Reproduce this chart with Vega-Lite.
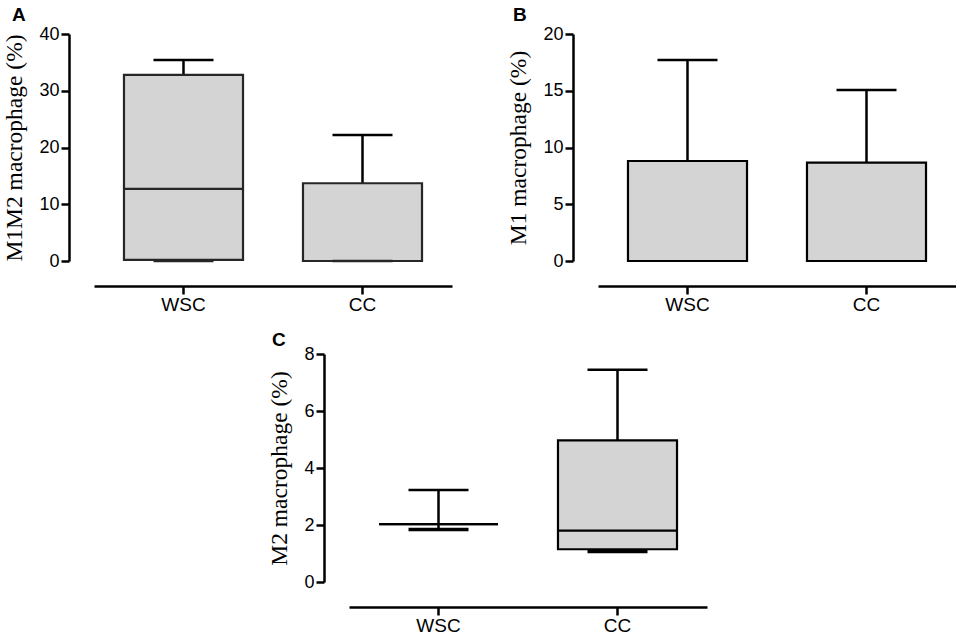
{
  "$schema": "https://vega.github.io/schema/vega-lite/v6.json",
  "background": "white",
  "padding": {"left": 2, "top": 6, "right": 0, "bottom": 0},
  "datasets": {
    "stats": [
      {"panel": "A", "group": "WSC", "min": 0, "q1": 0.2, "median": 12.7, "q3": 32.8, "max": 35.4},
      {"panel": "A", "group": "CC", "min": 0, "q1": 0, "median": 0, "q3": 13.7, "max": 22.2},
      {"panel": "B", "group": "WSC", "min": 0, "q1": 0, "median": 0, "q3": 8.81, "max": 17.7},
      {"panel": "B", "group": "CC", "min": 0, "q1": 0, "median": 0, "q3": 8.66, "max": 15.07},
      {"panel": "C", "group": "WSC", "min": 1.845, "q1": 2.03, "median": 2.03, "q3": 2.03, "max": 3.23},
      {"panel": "C", "group": "CC", "min": 1.07, "q1": 1.15, "median": 1.8, "q3": 4.97, "max": 7.45}
    ]
  },
  "config": {
    "view": {"stroke": null},
    "tick": {"opacity": 1},
    "axis": {
      "domainColor": "black", "domainWidth": 2.5, "tickColor": "black", "tickWidth": 2.5, "tickSize": 8,
      "labelFont": "Liberation Sans", "labelFontSize": 18, "labelColor": "black", "labelPadding": 2,
      "grid": false, "offset": 25,
      "titleFont": "Liberation Serif", "titleFontSize": 23.5, "titleFontWeight": "normal", "titleColor": "black"
    },
    "axisX": {"labelFontSize": 19, "labelPadding": 1, "labelAngle": 0, "title": null},
    "axisY": {"titlePadding": 12},
    "title": {"font": "Liberation Sans", "fontSize": 19, "fontWeight": "bold", "color": "black", "anchor": "start", "frame": "group", "offset": 0}
  },
  "vconcat": [
    {
      "hconcat": [
        {
          "title": {"text": "A", "dx": -82, "dy": 4},
          "width": 358, "height": 227,
          "data": {"name": "stats"},
          "transform": [{"filter": "datum.panel == 'A'"}],
          "encoding": {
            "x": {"field": "group", "type": "nominal", "sort": ["WSC", "CC"], "scale": {"paddingInner": 0.335, "paddingOuter": 0.1675}, "axis": {"title": null}}
          },
          "layer": [
            {"mark": {"type": "rule", "color": "black", "strokeWidth": 2.5},
             "encoding": {"y": {"field": "min", "type": "quantitative", "scale": {"domain": [0, 40], "nice": false}, "axis": {"values": [0, 10, 20, 30, 40], "title": "M1M2 macrophage (%)"}}, "y2": {"field": "max"}}},
            {"mark": {"type": "bar", "fill": "#d4d4d4", "stroke": "#262626", "strokeWidth": 2.2},
             "encoding": {"y": {"field": "q1", "type": "quantitative"}, "y2": {"field": "q3"}}},
            {"mark": {"type": "tick", "color": "#262626", "size": 119, "thickness": 2.2},
             "encoding": {"y": {"field": "median", "type": "quantitative"}}},
            {"mark": {"type": "tick", "color": "black", "size": 60, "thickness": 2.5},
             "encoding": {"y": {"field": "max", "type": "quantitative"}}},
            {"mark": {"type": "tick", "color": "#262626", "size": 60, "thickness": 2.5},
             "encoding": {"y": {"field": "min", "type": "quantitative"}}}
          ]
        },
        {
          "title": {"text": "B", "dx": -85, "dy": 4},
          "width": 358, "height": 227,
          "data": {"name": "stats"},
          "transform": [{"filter": "datum.panel == 'B'"}],
          "encoding": {
            "x": {"field": "group", "type": "nominal", "sort": ["WSC", "CC"], "scale": {"paddingInner": 0.335, "paddingOuter": 0.1675}, "axis": {"title": null}}
          },
          "layer": [
            {"mark": {"type": "rule", "color": "black", "strokeWidth": 2.5},
             "encoding": {"y": {"field": "min", "type": "quantitative", "scale": {"domain": [0, 20], "nice": false}, "axis": {"values": [0, 5, 10, 15, 20], "title": "M1 macrophage (%)"}}, "y2": {"field": "max"}}},
            {"mark": {"type": "bar", "fill": "#d4d4d4", "stroke": "black", "strokeWidth": 2.2},
             "encoding": {"y": {"field": "q1", "type": "quantitative"}, "y2": {"field": "q3"}}},
            {"mark": {"type": "tick", "color": "black", "size": 119, "thickness": 2.2},
             "encoding": {"y": {"field": "median", "type": "quantitative"}}},
            {"mark": {"type": "tick", "color": "black", "size": 60, "thickness": 2.5},
             "encoding": {"y": {"field": "max", "type": "quantitative"}}}
          ]
        }
      ],
      "bounds": "flush",
      "spacing": 146
    },
    {
      "hconcat": [
        {
          "width": 235, "height": 1,
          "data": {"values": []},
          "mark": "point"
        },
        {
          "title": {"text": "C", "dx": -77, "dy": 9},
          "width": 358, "height": 228,
          "data": {"name": "stats"},
          "transform": [{"filter": "datum.panel == 'C'"}],
          "encoding": {
            "x": {"field": "group", "type": "nominal", "sort": ["WSC", "CC"], "scale": {"paddingInner": 0.335, "paddingOuter": 0.1675}, "axis": {"title": null}}
          },
          "layer": [
            {"mark": {"type": "rule", "color": "black", "strokeWidth": 2.5},
             "encoding": {"y": {"field": "min", "type": "quantitative", "scale": {"domain": [0, 8], "nice": false}, "axis": {"values": [0, 2, 4, 6, 8], "title": "M2 macrophage (%)"}}, "y2": {"field": "max"}}},
            {"mark": {"type": "bar", "fill": "#d4d4d4", "stroke": "black", "strokeWidth": 2.2},
             "encoding": {"y": {"field": "q1", "type": "quantitative"}, "y2": {"field": "q3"}}},
            {"mark": {"type": "tick", "color": "black", "size": 119, "thickness": 2.2},
             "encoding": {"y": {"field": "median", "type": "quantitative"}}},
            {"mark": {"type": "tick", "color": "black", "size": 60, "thickness": 2.5},
             "encoding": {"y": {"field": "max", "type": "quantitative"}}},
            {"mark": {"type": "tick", "color": "black", "size": 60, "thickness": 3.5},
             "encoding": {"y": {"field": "min", "type": "quantitative"}}}
          ]
        }
      ],
      "bounds": "flush",
      "spacing": 20
    }
  ],
  "spacing": 17
}
